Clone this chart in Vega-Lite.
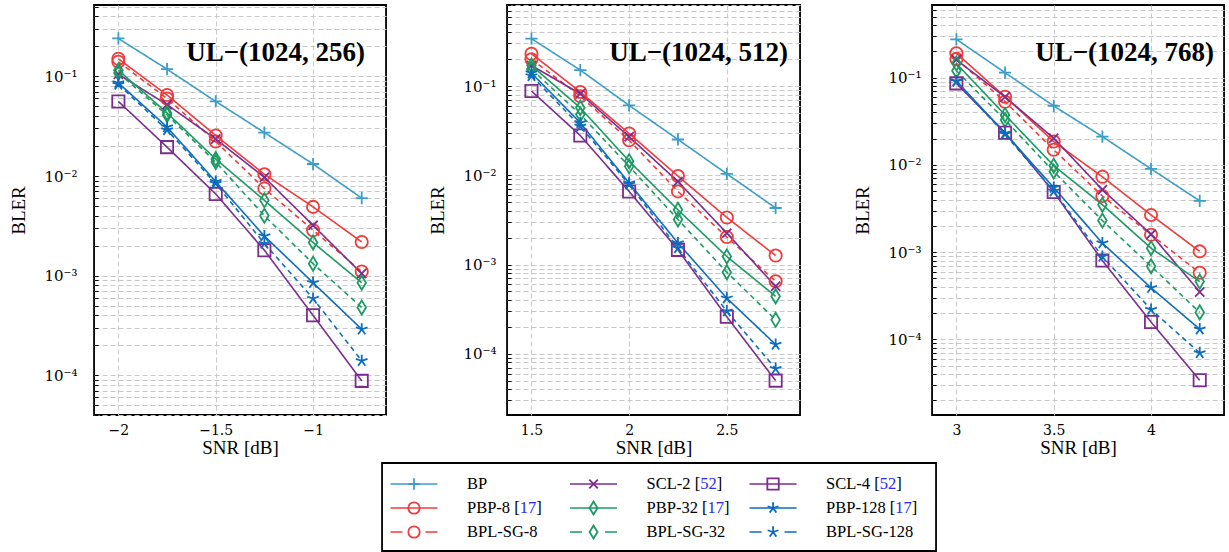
{
  "$schema": "https://vega.github.io/schema/vega-lite/v6.json",
  "background": "white",
  "padding": {"left": 8, "top": 3, "right": 0, "bottom": 0},
  "config": {
    "view": {"stroke": "black", "strokeWidth": 1.8},
    "axis": {"labelColor": "black", "titleColor": "black", "titleFontWeight": "normal", "titleFont": "Liberation Serif", "titleFontSize": 19, "labelFont": "DejaVu Serif", "labelFontSize": 14, "domain": false, "gridColor": "#c8c8c8", "gridDash": [5, 3], "gridWidth": 1, "labelOverlap": false, "labelBound": false, "labelFlush": false},
    "axisY": {"labelFontSize": {"condition": {"test": "abs(log(datum.value)/LN10 - round(log(datum.value)/LN10)) < 0.001", "value": 15}, "value": 0}, "ticks": true, "tickSize": -4, "tickColor": "black", "tickWidth": 1},
    "title": {"font": "Liberation Serif", "fontSize": 27, "fontWeight": "bold", "color": "black"}
  },
  "datasets": {
    "main": [
      {"p":1,"s":"BP","x":-2,"y":0.24},{"p":1,"s":"BP","x":-1.75,"y":0.118},{"p":1,"s":"BP","x":-1.5,"y":0.056},{"p":1,"s":"BP","x":-1.25,"y":0.0273},{"p":1,"s":"BP","x":-1,"y":0.0132},{"p":1,"s":"BP","x":-0.75,"y":0.006},
      {"p":1,"s":"PBP-8","x":-2,"y":0.15},{"p":1,"s":"PBP-8","x":-1.75,"y":0.065},{"p":1,"s":"PBP-8","x":-1.5,"y":0.0255},{"p":1,"s":"PBP-8","x":-1.25,"y":0.0104},{"p":1,"s":"PBP-8","x":-1,"y":0.0049},{"p":1,"s":"PBP-8","x":-0.75,"y":0.00218},
      {"p":1,"s":"BPL-SG-8","x":-2,"y":0.14},{"p":1,"s":"BPL-SG-8","x":-1.75,"y":0.06},{"p":1,"s":"BPL-SG-8","x":-1.5,"y":0.0222},{"p":1,"s":"BPL-SG-8","x":-1.25,"y":0.0075},{"p":1,"s":"BPL-SG-8","x":-1,"y":0.00286},{"p":1,"s":"BPL-SG-8","x":-0.75,"y":0.0011},
      {"p":1,"s":"SCL-2","x":-2,"y":0.105},{"p":1,"s":"SCL-2","x":-1.75,"y":0.052},{"p":1,"s":"SCL-2","x":-1.5,"y":0.0235},{"p":1,"s":"SCL-2","x":-1.25,"y":0.0097},{"p":1,"s":"SCL-2","x":-1,"y":0.0032},{"p":1,"s":"SCL-2","x":-0.75,"y":0.00105},
      {"p":1,"s":"PBP-32","x":-2,"y":0.115},{"p":1,"s":"PBP-32","x":-1.75,"y":0.043},{"p":1,"s":"PBP-32","x":-1.5,"y":0.0148},{"p":1,"s":"PBP-32","x":-1.25,"y":0.0057},{"p":1,"s":"PBP-32","x":-1,"y":0.00215},{"p":1,"s":"PBP-32","x":-0.75,"y":0.00085},
      {"p":1,"s":"BPL-SG-32","x":-2,"y":0.108},{"p":1,"s":"BPL-SG-32","x":-1.75,"y":0.041},{"p":1,"s":"BPL-SG-32","x":-1.5,"y":0.0138},{"p":1,"s":"BPL-SG-32","x":-1.25,"y":0.004},{"p":1,"s":"BPL-SG-32","x":-1,"y":0.00132},{"p":1,"s":"BPL-SG-32","x":-0.75,"y":0.00048},
      {"p":1,"s":"SCL-4","x":-2,"y":0.056},{"p":1,"s":"SCL-4","x":-1.75,"y":0.0195},{"p":1,"s":"SCL-4","x":-1.5,"y":0.0066},{"p":1,"s":"SCL-4","x":-1.25,"y":0.0018},{"p":1,"s":"SCL-4","x":-1,"y":0.0004},{"p":1,"s":"SCL-4","x":-0.75,"y":0.000088},
      {"p":1,"s":"PBP-128","x":-2,"y":0.086},{"p":1,"s":"PBP-128","x":-1.75,"y":0.031},{"p":1,"s":"PBP-128","x":-1.5,"y":0.0088},{"p":1,"s":"PBP-128","x":-1.25,"y":0.0025},{"p":1,"s":"PBP-128","x":-1,"y":0.00085},{"p":1,"s":"PBP-128","x":-0.75,"y":0.00029},
      {"p":1,"s":"BPL-SG-128","x":-2,"y":0.083},{"p":1,"s":"BPL-SG-128","x":-1.75,"y":0.029},{"p":1,"s":"BPL-SG-128","x":-1.5,"y":0.0084},{"p":1,"s":"BPL-SG-128","x":-1.25,"y":0.0021},{"p":1,"s":"BPL-SG-128","x":-1,"y":0.00059},{"p":1,"s":"BPL-SG-128","x":-0.75,"y":0.00014},

      {"p":2,"s":"BP","x":1.5,"y":0.34},{"p":2,"s":"BP","x":1.75,"y":0.151},{"p":2,"s":"BP","x":2,"y":0.0607},{"p":2,"s":"BP","x":2.25,"y":0.0252},{"p":2,"s":"BP","x":2.5,"y":0.0104},{"p":2,"s":"BP","x":2.75,"y":0.0043},
      {"p":2,"s":"PBP-8","x":1.5,"y":0.23},{"p":2,"s":"PBP-8","x":1.75,"y":0.086},{"p":2,"s":"PBP-8","x":2,"y":0.0294},{"p":2,"s":"PBP-8","x":2.25,"y":0.0098},{"p":2,"s":"PBP-8","x":2.5,"y":0.00337},{"p":2,"s":"PBP-8","x":2.75,"y":0.00126},
      {"p":2,"s":"BPL-SG-8","x":1.5,"y":0.2},{"p":2,"s":"BPL-SG-8","x":1.75,"y":0.077},{"p":2,"s":"BPL-SG-8","x":2,"y":0.0247},{"p":2,"s":"BPL-SG-8","x":2.25,"y":0.0066},{"p":2,"s":"BPL-SG-8","x":2.5,"y":0.00203},{"p":2,"s":"BPL-SG-8","x":2.75,"y":0.00065},
      {"p":2,"s":"SCL-2","x":1.5,"y":0.17},{"p":2,"s":"SCL-2","x":1.75,"y":0.082},{"p":2,"s":"SCL-2","x":2,"y":0.027},{"p":2,"s":"SCL-2","x":2.25,"y":0.0085},{"p":2,"s":"SCL-2","x":2.5,"y":0.00225},{"p":2,"s":"SCL-2","x":2.75,"y":0.00057},
      {"p":2,"s":"PBP-32","x":1.5,"y":0.17},{"p":2,"s":"PBP-32","x":1.75,"y":0.057},{"p":2,"s":"PBP-32","x":2,"y":0.0144},{"p":2,"s":"PBP-32","x":2.25,"y":0.0041},{"p":2,"s":"PBP-32","x":2.5,"y":0.00123},{"p":2,"s":"PBP-32","x":2.75,"y":0.00044},
      {"p":2,"s":"BPL-SG-32","x":1.5,"y":0.155},{"p":2,"s":"BPL-SG-32","x":1.75,"y":0.048},{"p":2,"s":"BPL-SG-32","x":2,"y":0.0126},{"p":2,"s":"BPL-SG-32","x":2.25,"y":0.0032},{"p":2,"s":"BPL-SG-32","x":2.5,"y":0.00082},{"p":2,"s":"BPL-SG-32","x":2.75,"y":0.00024},
      {"p":2,"s":"SCL-4","x":1.5,"y":0.088},{"p":2,"s":"SCL-4","x":1.75,"y":0.0279},{"p":2,"s":"SCL-4","x":2,"y":0.0066},{"p":2,"s":"SCL-4","x":2.25,"y":0.00146},{"p":2,"s":"SCL-4","x":2.5,"y":0.00026},{"p":2,"s":"SCL-4","x":2.75,"y":0.00005},
      {"p":2,"s":"PBP-128","x":1.5,"y":0.14},{"p":2,"s":"PBP-128","x":1.75,"y":0.0387},{"p":2,"s":"PBP-128","x":2,"y":0.0082},{"p":2,"s":"PBP-128","x":2.25,"y":0.00174},{"p":2,"s":"PBP-128","x":2.5,"y":0.00042},{"p":2,"s":"PBP-128","x":2.75,"y":0.000127},
      {"p":2,"s":"BPL-SG-128","x":1.5,"y":0.13},{"p":2,"s":"BPL-SG-128","x":1.75,"y":0.0355},{"p":2,"s":"BPL-SG-128","x":2,"y":0.0079},{"p":2,"s":"BPL-SG-128","x":2.25,"y":0.00153},{"p":2,"s":"BPL-SG-128","x":2.5,"y":0.0003},{"p":2,"s":"BPL-SG-128","x":2.75,"y":0.000068},

      {"p":3,"s":"BP","x":3,"y":0.275},{"p":3,"s":"BP","x":3.25,"y":0.114},{"p":3,"s":"BP","x":3.5,"y":0.0474},{"p":3,"s":"BP","x":3.75,"y":0.0211},{"p":3,"s":"BP","x":4,"y":0.009},{"p":3,"s":"BP","x":4.25,"y":0.00387},
      {"p":3,"s":"PBP-8","x":3,"y":0.19},{"p":3,"s":"PBP-8","x":3.25,"y":0.0605},{"p":3,"s":"PBP-8","x":3.5,"y":0.0185},{"p":3,"s":"PBP-8","x":3.75,"y":0.0073},{"p":3,"s":"PBP-8","x":4,"y":0.00267},{"p":3,"s":"PBP-8","x":4.25,"y":0.00102},
      {"p":3,"s":"BPL-SG-8","x":3,"y":0.164},{"p":3,"s":"BPL-SG-8","x":3.25,"y":0.053},{"p":3,"s":"BPL-SG-8","x":3.5,"y":0.0149},{"p":3,"s":"BPL-SG-8","x":3.75,"y":0.0044},{"p":3,"s":"BPL-SG-8","x":4,"y":0.00158},{"p":3,"s":"BPL-SG-8","x":4.25,"y":0.00058},
      {"p":3,"s":"SCL-2","x":3,"y":0.16},{"p":3,"s":"SCL-2","x":3.25,"y":0.06},{"p":3,"s":"SCL-2","x":3.5,"y":0.0202},{"p":3,"s":"SCL-2","x":3.75,"y":0.0052},{"p":3,"s":"SCL-2","x":4,"y":0.0016},{"p":3,"s":"SCL-2","x":4.25,"y":0.00035},
      {"p":3,"s":"PBP-32","x":3,"y":0.145},{"p":3,"s":"PBP-32","x":3.25,"y":0.0374},{"p":3,"s":"PBP-32","x":3.5,"y":0.0098},{"p":3,"s":"PBP-32","x":3.75,"y":0.0035},{"p":3,"s":"PBP-32","x":4,"y":0.00111},{"p":3,"s":"PBP-32","x":4.25,"y":0.00046},
      {"p":3,"s":"BPL-SG-32","x":3,"y":0.12},{"p":3,"s":"BPL-SG-32","x":3.25,"y":0.0327},{"p":3,"s":"BPL-SG-32","x":3.5,"y":0.0084},{"p":3,"s":"BPL-SG-32","x":3.75,"y":0.0023},{"p":3,"s":"BPL-SG-32","x":4,"y":0.00069},{"p":3,"s":"BPL-SG-32","x":4.25,"y":0.000204},
      {"p":3,"s":"SCL-4","x":3,"y":0.086},{"p":3,"s":"SCL-4","x":3.25,"y":0.0234},{"p":3,"s":"SCL-4","x":3.5,"y":0.0049},{"p":3,"s":"SCL-4","x":3.75,"y":0.0008},{"p":3,"s":"SCL-4","x":4,"y":0.000158},{"p":3,"s":"SCL-4","x":4.25,"y":0.000034},
      {"p":3,"s":"PBP-128","x":3,"y":0.0916},{"p":3,"s":"PBP-128","x":3.25,"y":0.0231},{"p":3,"s":"PBP-128","x":3.5,"y":0.0055},{"p":3,"s":"PBP-128","x":3.75,"y":0.00127},{"p":3,"s":"PBP-128","x":4,"y":0.00039},{"p":3,"s":"PBP-128","x":4.25,"y":0.000131},
      {"p":3,"s":"BPL-SG-128","x":3,"y":0.09},{"p":3,"s":"BPL-SG-128","x":3.25,"y":0.0225},{"p":3,"s":"BPL-SG-128","x":3.5,"y":0.005},{"p":3,"s":"BPL-SG-128","x":3.75,"y":0.00089},{"p":3,"s":"BPL-SG-128","x":4,"y":0.00022},{"p":3,"s":"BPL-SG-128","x":4.25,"y":0.00007}
    ],
    "leg": [
      {"s":"BP","col":0,"row":0,"full":"BP","pre":"","base":""},
      {"s":"SCL-2","col":1,"row":0,"full":"SCL-2 [52]","pre":"SCL-2 [52","base":"SCL-2 ["},
      {"s":"SCL-4","col":2,"row":0,"full":"SCL-4 [52]","pre":"SCL-4 [52","base":"SCL-4 ["},
      {"s":"PBP-8","col":0,"row":1,"full":"PBP-8 [17]","pre":"PBP-8 [17","base":"PBP-8 ["},
      {"s":"PBP-32","col":1,"row":1,"full":"PBP-32 [17]","pre":"PBP-32 [17","base":"PBP-32 ["},
      {"s":"PBP-128","col":2,"row":1,"full":"PBP-128 [17]","pre":"PBP-128 [17","base":"PBP-128 ["},
      {"s":"BPL-SG-8","col":0,"row":2,"full":"BPL-SG-8","pre":"","base":""},
      {"s":"BPL-SG-32","col":1,"row":2,"full":"BPL-SG-32","pre":"","base":""},
      {"s":"BPL-SG-128","col":2,"row":2,"full":"BPL-SG-128","pre":"","base":""}
    ]
  },
  "vconcat": [
    {
      "hconcat": [
        {
          "width": 292, "height": 410,
          "data": {"name": "main"},
          "transform": [{"filter": "datum.p == 1"}],
          "title": {"text": "UL−(1024, 256)", "orient": "top", "anchor": "end", "offset": -62, "dx": -21},
          "encoding": {
            "x": {"field": "x", "type": "quantitative", "scale": {"domain": [-2.125, -0.625], "nice": false, "zero": false},
                  "axis": {"title": "SNR [dB]", "values": [-2, -1.5, -1], "format": "~g", "ticks": false, "labelPadding": 8, "titlePadding": 1}},
            "y": {"field": "y", "type": "quantitative", "scale": {"type": "log", "domain": [0.00004, 0.52], "nice": false},
                  "axis": {"title": "BLER", "values": [0.00004,0.00005,0.00006,0.00007,0.00008,0.00009,0.0001,0.0002,0.0003,0.0004,0.0005,0.0006,0.0007,0.0008,0.0009,0.001,0.002,0.003,0.004,0.005,0.006,0.007,0.008,0.009,0.01,0.02,0.03,0.04,0.05,0.06,0.07,0.08,0.09,0.1,0.2,0.3,0.4,0.5],
                           "labelExpr": "abs(log(datum.value)/LN10 - round(log(datum.value)/LN10)) < 0.001 ? '10' + ['⁰','⁻¹','⁻²','⁻³','⁻⁴','⁻⁵'][-round(log(datum.value)/LN10)] : ''",
                           "labelPadding": 21, "titlePadding": 16}},
            "color": {"field": "s", "type": "nominal", "legend": null,
                      "scale": {"domain": ["BP","PBP-8","BPL-SG-8","SCL-2","PBP-32","BPL-SG-32","SCL-4","PBP-128","BPL-SG-128"],
                                "range": ["#3b9dc8","#f03b3b","#f03b3b","#7b2d8e","#1c9a63","#1c9a63","#7b2d8e","#0d6cbc","#0d6cbc"]}}
          },
          "layer": [
            {"mark": {"type": "line", "strokeWidth": 1.6, "clip": true},
             "encoding": {"strokeDash": {"field": "s", "type": "nominal", "legend": null,
                          "scale": {"domain": ["BP","PBP-8","BPL-SG-8","SCL-2","PBP-32","BPL-SG-32","SCL-4","PBP-128","BPL-SG-128"],
                                    "range": [[1,0],[1,0],[5,4],[1,0],[1,0],[5,4],[1,0],[1,0],[5,4]]}}}},
            {"mark": {"type": "point", "filled": false, "strokeWidth": 1.8, "size": 150, "opacity": 1},
             "encoding": {"shape": {"field": "s", "type": "nominal", "legend": null,
                          "scale": {"domain": ["BP","PBP-8","BPL-SG-8","SCL-2","PBP-32","BPL-SG-32","SCL-4","PBP-128","BPL-SG-128"],
                                    "range": ["M-1,0H1M0,-1V1","circle","circle","M-0.75,-0.75L0.75,0.75M-0.75,0.75L0.75,-0.75","M0,-1.15L0.7,0L0,1.15L-0.7,0Z","M0,-1.15L0.7,0L0,1.15L-0.7,0Z","square","M0,0V-1M0,0L0.951,-0.309M0,0L0.588,0.809M0,0L-0.588,0.809M0,0L-0.951,-0.309","M0,0V-1M0,0L0.951,-0.309M0,0L0.588,0.809M0,0L-0.588,0.809M0,0L-0.951,-0.309"]}}}}
          ]
        },
        {
          "hconcat": [
            {
              "width": 293, "height": 410,
              "data": {"name": "main"},
              "transform": [{"filter": "datum.p == 2"}],
              "title": {"text": "UL−(1024, 512)", "orient": "top", "anchor": "end", "offset": -62, "dx": -12},
              "encoding": {
                "x": {"field": "x", "type": "quantitative", "scale": {"domain": [1.375, 2.875], "nice": false, "zero": false},
                      "axis": {"title": "SNR [dB]", "values": [1.5, 2, 2.5], "format": "~g", "ticks": false, "labelPadding": 8, "titlePadding": 1}},
                "y": {"field": "y", "type": "quantitative", "scale": {"type": "log", "domain": [0.0000206, 0.81], "nice": false},
                      "axis": {"title": "BLER", "values": [0.00003,0.00004,0.00005,0.00006,0.00007,0.00008,0.00009,0.0001,0.0002,0.0003,0.0004,0.0005,0.0006,0.0007,0.0008,0.0009,0.001,0.002,0.003,0.004,0.005,0.006,0.007,0.008,0.009,0.01,0.02,0.03,0.04,0.05,0.06,0.07,0.08,0.09,0.1,0.2,0.3,0.4,0.5,0.6,0.7,0.8],
                               "labelExpr": "abs(log(datum.value)/LN10 - round(log(datum.value)/LN10)) < 0.001 ? '10' + ['⁰','⁻¹','⁻²','⁻³','⁻⁴','⁻⁵'][-round(log(datum.value)/LN10)] : ''",
                               "labelPadding": 15, "titlePadding": 16}},
                "color": {"field": "s", "type": "nominal", "legend": null}
              },
              "layer": [
                {"mark": {"type": "line", "strokeWidth": 1.6, "clip": true},
                 "encoding": {"strokeDash": {"field": "s", "type": "nominal", "legend": null}}},
                {"mark": {"type": "point", "filled": false, "strokeWidth": 1.8, "size": 150, "opacity": 1},
                 "encoding": {"shape": {"field": "s", "type": "nominal", "legend": null}}}
              ]
            },
            {
              "width": 292, "height": 410,
              "data": {"name": "main"},
              "transform": [{"filter": "datum.p == 3"}],
              "title": {"text": "UL−(1024, 768)", "orient": "top", "anchor": "end", "offset": -62, "dx": -10},
              "encoding": {
                "x": {"field": "x", "type": "quantitative", "scale": {"domain": [2.875, 4.375], "nice": false, "zero": false},
                      "axis": {"title": "SNR [dB]", "values": [3, 3.5, 4], "format": "~g", "ticks": false, "labelPadding": 8, "titlePadding": 1}},
                "y": {"field": "y", "type": "quantitative", "scale": {"type": "log", "domain": [0.0000136, 0.68], "nice": false},
                      "axis": {"title": "BLER", "values": [0.00002,0.00003,0.00004,0.00005,0.00006,0.00007,0.00008,0.00009,0.0001,0.0002,0.0003,0.0004,0.0005,0.0006,0.0007,0.0008,0.0009,0.001,0.002,0.003,0.004,0.005,0.006,0.007,0.008,0.009,0.01,0.02,0.03,0.04,0.05,0.06,0.07,0.08,0.09,0.1,0.2,0.3,0.4,0.5,0.6],
                               "labelExpr": "abs(log(datum.value)/LN10 - round(log(datum.value)/LN10)) < 0.001 ? '10' + ['⁰','⁻¹','⁻²','⁻³','⁻⁴','⁻⁵'][-round(log(datum.value)/LN10)] : ''",
                               "labelPadding": 15, "titlePadding": 16}},
                "color": {"field": "s", "type": "nominal", "legend": null}
              },
              "layer": [
                {"mark": {"type": "line", "strokeWidth": 1.6, "clip": true},
                 "encoding": {"strokeDash": {"field": "s", "type": "nominal", "legend": null}}},
                {"mark": {"type": "point", "filled": false, "strokeWidth": 1.8, "size": 150, "opacity": 1},
                 "encoding": {"shape": {"field": "s", "type": "nominal", "legend": null}}}
              ]
            }
          ],
          "spacing": 51
        }
      ],
      "spacing": 40
    },
    {
      "width": 554, "height": 88,
      "data": {"name": "leg"},
      "encoding": {
        "x": {"field": "col", "type": "quantitative", "scale": {"domain": [-0.178, 2.908], "nice": false, "zero": false}, "axis": null},
        "y": {"field": "row", "type": "quantitative", "scale": {"domain": [-0.875, 2.792], "nice": false, "zero": false, "reverse": true},
              "axis": {"domain": true, "domainOpacity": 0, "ticks": false, "labels": false, "grid": false, "title": null, "offset": 56}},
        "color": {"field": "s", "type": "nominal", "legend": null}
      },
      "layer": [
        {"transform": [{"filter": {"not": {"field": "s", "oneOf": ["BPL-SG-8", "BPL-SG-32", "BPL-SG-128"]}}}],
         "mark": {"type": "rule", "strokeWidth": 1.6, "xOffset": -23.5, "x2Offset": 23.5},
         "encoding": {"x2": {"field": "col"}}},
        {"transform": [{"filter": {"field": "s", "oneOf": ["BPL-SG-8", "BPL-SG-32", "BPL-SG-128"]}}],
         "mark": {"type": "rule", "strokeWidth": 1.6, "xOffset": -23.5, "x2Offset": 23.5, "strokeDash": [12, 23]},
         "encoding": {"x2": {"field": "col"}}},
        {"mark": {"type": "point", "filled": false, "strokeWidth": 1.8, "size": 130, "opacity": 1},
         "encoding": {"shape": {"field": "s", "type": "nominal", "legend": null}}},
        {"mark": {"type": "text", "align": "left", "baseline": "middle", "dx": 53, "font": "Liberation Serif", "fontSize": 16.5},
         "encoding": {"text": {"field": "full"}, "color": {"value": "black"}}},
        {"mark": {"type": "text", "align": "left", "baseline": "middle", "dx": 53, "font": "Liberation Serif", "fontSize": 16.5, "stroke": "white", "strokeWidth": 1.2},
         "encoding": {"text": {"field": "pre"}, "color": {"value": "white"}}},
        {"mark": {"type": "text", "align": "left", "baseline": "middle", "dx": 53, "font": "Liberation Serif", "fontSize": 16.5},
         "encoding": {"text": {"field": "pre"}, "color": {"value": "#2a2aee"}}},
        {"mark": {"type": "text", "align": "left", "baseline": "middle", "dx": 53, "font": "Liberation Serif", "fontSize": 16.5, "stroke": "white", "strokeWidth": 1.2},
         "encoding": {"text": {"field": "base"}, "color": {"value": "white"}}},
        {"mark": {"type": "text", "align": "left", "baseline": "middle", "dx": 53, "font": "Liberation Serif", "fontSize": 16.5},
         "encoding": {"text": {"field": "base"}, "color": {"value": "black"}}}
      ]
    }
  ],
  "spacing": 4,
  "center": true
}
